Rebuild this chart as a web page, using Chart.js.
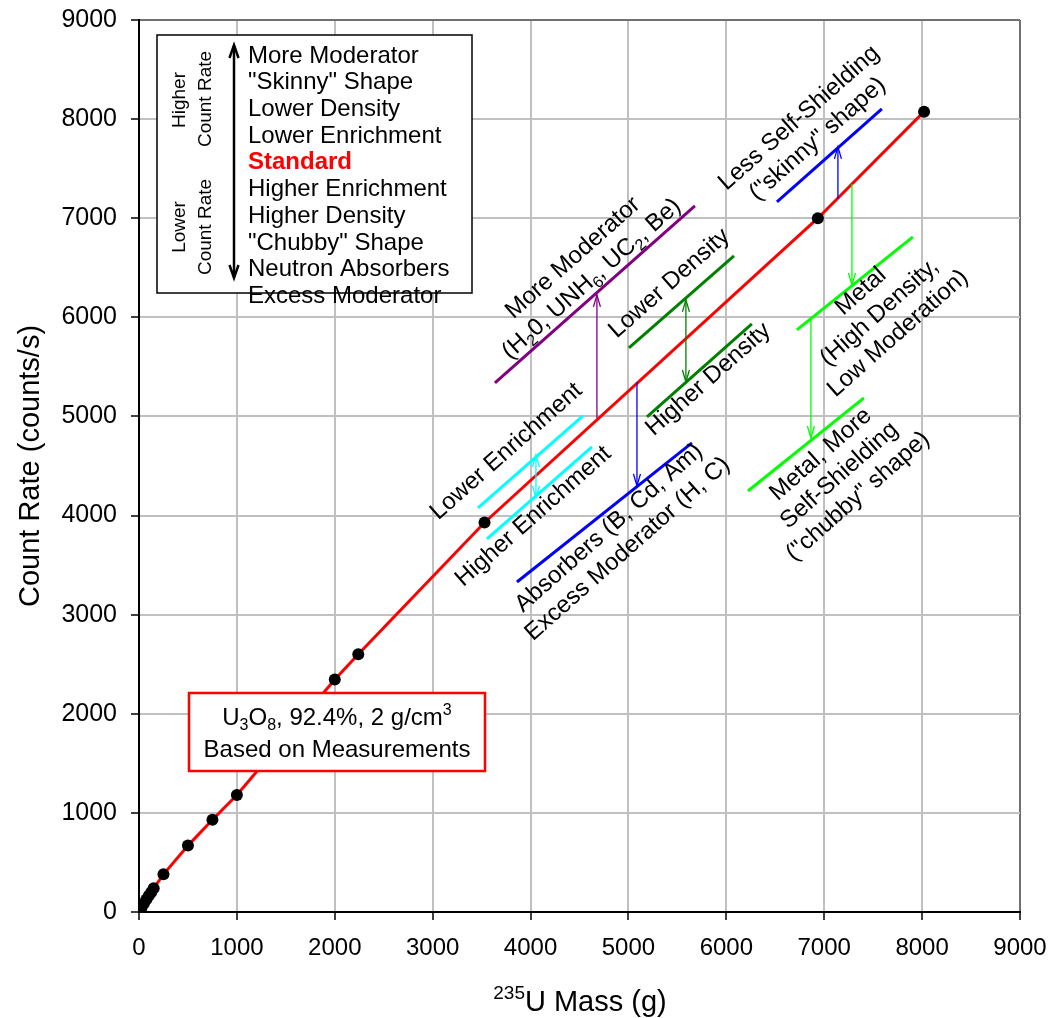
<!DOCTYPE html>
<html>
<head>
<meta charset="utf-8">
<script src="https://cdn.jsdelivr.net/npm/chart.js@4.4.1/dist/chart.umd.min.js"></script>
<style>
  html, body { margin: 0; padding: 0; background: #fff; }
  #wrap { width: 1050px; height: 1018px; }
</style>
</head>
<body>
<div id="wrap"><canvas id="chart" width="1050" height="1018"></canvas></div>
<script>
var FONT = '"Liberation Sans", Arial, Helvetica, sans-serif';

// measured standards (235U mass in g, count rate in counts/s)
var massG     = [0, 25, 50, 75, 100, 125, 150, 250, 500, 750, 1000, 2000, 2240, 3530, 6935, 8020];
var countRate = [0, 40, 85, 125, 165, 200, 240, 380, 670, 930, 1180, 2345, 2600, 3930, 7000, 8075];

var xTickValues = [0, 1000, 2000, 3000, 4000, 5000, 6000, 7000, 8000, 9000];
var yTickValues = [0, 1000, 2000, 3000, 4000, 5000, 6000, 7000, 8000, 9000];

// shifted calibration lines (start / end in data units)
var segX1 = [3636, 5005, 5189, 3463, 3555, 3861, 6517, 6721, 6221];
var segY1 = [5338, 5691, 4995, 4077, 3764, 3330, 7165, 5873, 4248];
var segX2 = [5679, 6078, 6261, 4535, 4627, 5649, 7589, 7906, 7406];
var segY2 = [7124, 6620, 5933, 5005, 4692, 4733, 8103, 6811, 5187];
var segColors = ['#800080', '#008000', '#008000', '#00ffff', '#00ffff', '#0000ff', '#0000ff', '#00ff00', '#00ff00'];

// vertical shift arrows: x, from y, to y
var arrowX    = [4678, 5587, 4055, 5087, 7140, 7283, 6864];
var arrowFrom = [4985, 5348, 4178, 5348, 7195, 7346, 5974];
var arrowTo   = [6226, 6176, 4612, 4299, 7720, 6327, 4783];
var arrowBoth = [false, true, true, false, false, false, false];
var arrowColors = ['#800080', '#008000', '#00ffff', '#0000ff', '#0000ff', '#00ff00', '#00ff00'];

// rotated labels (centre of each block, data units)
var labelLines = [
  ['More Moderator', '(H_{2}0, UNH_{6}, UC_{2}, Be)'],
  ['Lower Density'],
  ['Higher Density'],
  ['Lower Enrichment'],
  ['Higher Enrichment'],
  ['Absorbers (B, Cd, Am)', 'Excess Moderator (H, C)'],
  ['Less Self-Shielding', '("skinny" shape)'],
  ['Metal', '(High Density,', 'Low Moderation)'],
  ['Metal, More', 'Self-Shielding', '("chubby" shape)']
];
var labelX = [4515, 5404, 5802, 3739, 4015, 4883, 6824, 7550, 7141];
var labelY = [6508, 6357, 5388, 4662, 4006, 3784, 7920, 6064, 4420];

var keyItems = ['More Moderator', '"Skinny" Shape', 'Lower Density', 'Lower Enrichment', 'Standard',
                'Higher Enrichment', 'Higher Density', '"Chubby" Shape', 'Neutron Absorbers', 'Excess Moderator'];
var noteLines = ['U_{3}O_{8}, 92.4%, 2 g/cm^{3}', 'Based on Measurements'];

// ---- small rich-text helper: _{sub} and ^{sup} ----
function parseRich(s) {
  var parts = [], re = /([_^])\{([^}]*)\}/g, last = 0, m;
  while ((m = re.exec(s))) {
    if (m.index > last) parts.push({ t: s.slice(last, m.index), k: 0 });
    parts.push({ t: m[2], k: m[1] === '_' ? -1 : 1 });
    last = re.lastIndex;
  }
  if (last < s.length) parts.push({ t: s.slice(last), k: 0 });
  return parts;
}
function drawRich(ctx, s, cx, cy, size, align, weight) {
  var parts = parseRich(s), w = 0, small = Math.round(size * 0.65);
  var f = function(sz) { return (weight || '') + ' ' + sz + 'px ' + FONT; };
  parts.forEach(function(p) { ctx.font = f(p.k ? small : size); p.w = ctx.measureText(p.t).width; w += p.w; });
  var x = align === 'left' ? cx : cx - w / 2;
  var base = cy + size * 0.36;
  ctx.textAlign = 'left';
  ctx.textBaseline = 'alphabetic';
  parts.forEach(function(p) {
    ctx.font = f(p.k ? small : size);
    var y = p.k === -1 ? base + size * 0.22 : p.k === 1 ? base - size * 0.42 : base;
    ctx.fillText(p.t, x, y);
    x += p.w;
  });
}
function arrowHead(ctx, x, y, dir, len, half) {
  ctx.beginPath();
  ctx.moveTo(x - half, y - dir * len);
  ctx.lineTo(x, y);
  ctx.lineTo(x + half, y - dir * len);
  ctx.stroke();
}

var overlay = {
  id: 'overlay',
  afterDatasetsDraw: function(chart) {
    var ctx = chart.ctx, xs = chart.scales.x, ys = chart.scales.y;
    ctx.save();

    // shift arrows
    arrowX.forEach(function(v, i) {
      var px = xs.getPixelForValue(v), p1 = ys.getPixelForValue(arrowFrom[i]), p2 = ys.getPixelForValue(arrowTo[i]);
      ctx.strokeStyle = arrowColors[i];
      ctx.lineWidth = 1.3;
      ctx.beginPath(); ctx.moveTo(px, p1); ctx.lineTo(px, p2); ctx.stroke();
      var dir = p2 > p1 ? 1 : -1;
      arrowHead(ctx, px, p2, dir, 12, 3.5);
      if (arrowBoth[i]) arrowHead(ctx, px, p1, -dir, 12, 3.5);
    });

    // rotated labels
    ctx.fillStyle = '#000';
    labelLines.forEach(function(lines, i) {
      ctx.save();
      ctx.translate(xs.getPixelForValue(labelX[i]), ys.getPixelForValue(labelY[i]));
      ctx.rotate(-41.5 * Math.PI / 180);
      lines.forEach(function(s, j) { drawRich(ctx, s, 0, (j - (lines.length - 1) / 2) * 28, 24, 'center'); });
      ctx.restore();
    });

    // key box, top left
    ctx.fillStyle = '#fff';
    ctx.fillRect(157, 35, 315, 258);
    ctx.strokeStyle = '#000';
    ctx.lineWidth = 1.5;
    ctx.strokeRect(157, 35, 315, 258);
    keyItems.forEach(function(s, i) {
      ctx.fillStyle = s === 'Standard' ? '#ff0000' : '#000';
      drawRich(ctx, s, 248, 54 + i * 26.7, 24, 'left', s === 'Standard' ? 'bold' : '');
    });
    ctx.strokeStyle = '#000';
    ctx.lineWidth = 2.5;
    ctx.beginPath(); ctx.moveTo(234, 46); ctx.lineTo(234, 277); ctx.stroke();
    arrowHead(ctx, 234, 45, -1, 13, 4.5);
    arrowHead(ctx, 234, 278, 1, 13, 4.5);
    ctx.fillStyle = '#000';
    [['Higher', 178, 100], ['Count Rate', 204, 99], ['Lower', 178, 227], ['Count Rate', 204, 227]].forEach(function(a) {
      ctx.save();
      ctx.translate(a[1], a[2]);
      ctx.rotate(-Math.PI / 2);
      drawRich(ctx, a[0], 0, 0, 19, 'center');
      ctx.restore();
    });

    // measurement note
    ctx.fillStyle = '#fff';
    ctx.fillRect(189, 693, 296, 78);
    ctx.strokeStyle = '#ff0000';
    ctx.lineWidth = 2.5;
    ctx.strokeRect(189, 693, 296, 78);
    ctx.fillStyle = '#000';
    noteLines.forEach(function(s, i) { drawRich(ctx, s, 337, 716 + i * 32, 24, 'center'); });

    // axis titles
    ctx.save();
    ctx.translate(29, 466);
    ctx.rotate(-Math.PI / 2);
    drawRich(ctx, 'Count Rate (counts/s)', 0, 0, 29, 'center');
    ctx.restore();
    drawRich(ctx, '^{235}U Mass (g)', 580, 1001, 29, 'center');

    ctx.restore();
  }
};

var datasets = [{
  data: massG.map(function(x, i) { return { x: x, y: countRate[i] }; }),
  showLine: true, borderColor: '#ff0000', borderWidth: 3,
  pointRadius: 6, pointBackgroundColor: '#000', pointBorderColor: '#000', pointBorderWidth: 0
}];
segX1.forEach(function(x, i) {
  datasets.push({
    data: [{ x: x, y: segY1[i] }, { x: segX2[i], y: segY2[i] }],
    showLine: true, borderColor: segColors[i], borderWidth: 3, pointRadius: 0
  });
});

function gridColor(c) { return c.tick && c.tick.value === 9000 ? '#707070' : '#c0c0c0'; }
function plain(v) { return String(v); }

new Chart(document.getElementById('chart'), {
  type: 'scatter',
  data: { datasets: datasets },
  options: {
    responsive: false, animation: false,
    layout: { padding: { top: 20, right: 30, left: 0, bottom: 0 } },
    plugins: { legend: { display: false }, tooltip: { enabled: false } },
    scales: {
      x: {
        type: 'linear', min: 0, max: 9000,
        afterBuildTicks: function(s) { s.ticks = xTickValues.map(function(v) { return { value: v }; }); },
        afterFit: function(s) { s.height = 106; s.paddingLeft = 0; s.paddingRight = 0; },
        ticks: { color: '#000', font: { family: FONT, size: 24 }, padding: 14, maxRotation: 0, callback: plain },
        grid: { color: gridColor, lineWidth: 2, tickLength: 8, tickColor: '#000', tickWidth: 1.5 },
        border: { color: '#000', width: 2 }
      },
      y: {
        type: 'linear', min: 0, max: 9000,
        afterBuildTicks: function(s) { s.ticks = yTickValues.map(function(v) { return { value: v }; }); },
        afterFit: function(s) { s.width = 139; s.paddingTop = 0; s.paddingBottom = 0; },
        ticks: { color: '#000', font: { family: FONT, size: 25 }, padding: 14, callback: plain },
        grid: { color: gridColor, lineWidth: 2, tickLength: 8, tickColor: '#000', tickWidth: 1.5 },
        border: { color: '#000', width: 2 }
      }
    }
  },
  plugins: [overlay]
});
</script>
</body>
</html>
